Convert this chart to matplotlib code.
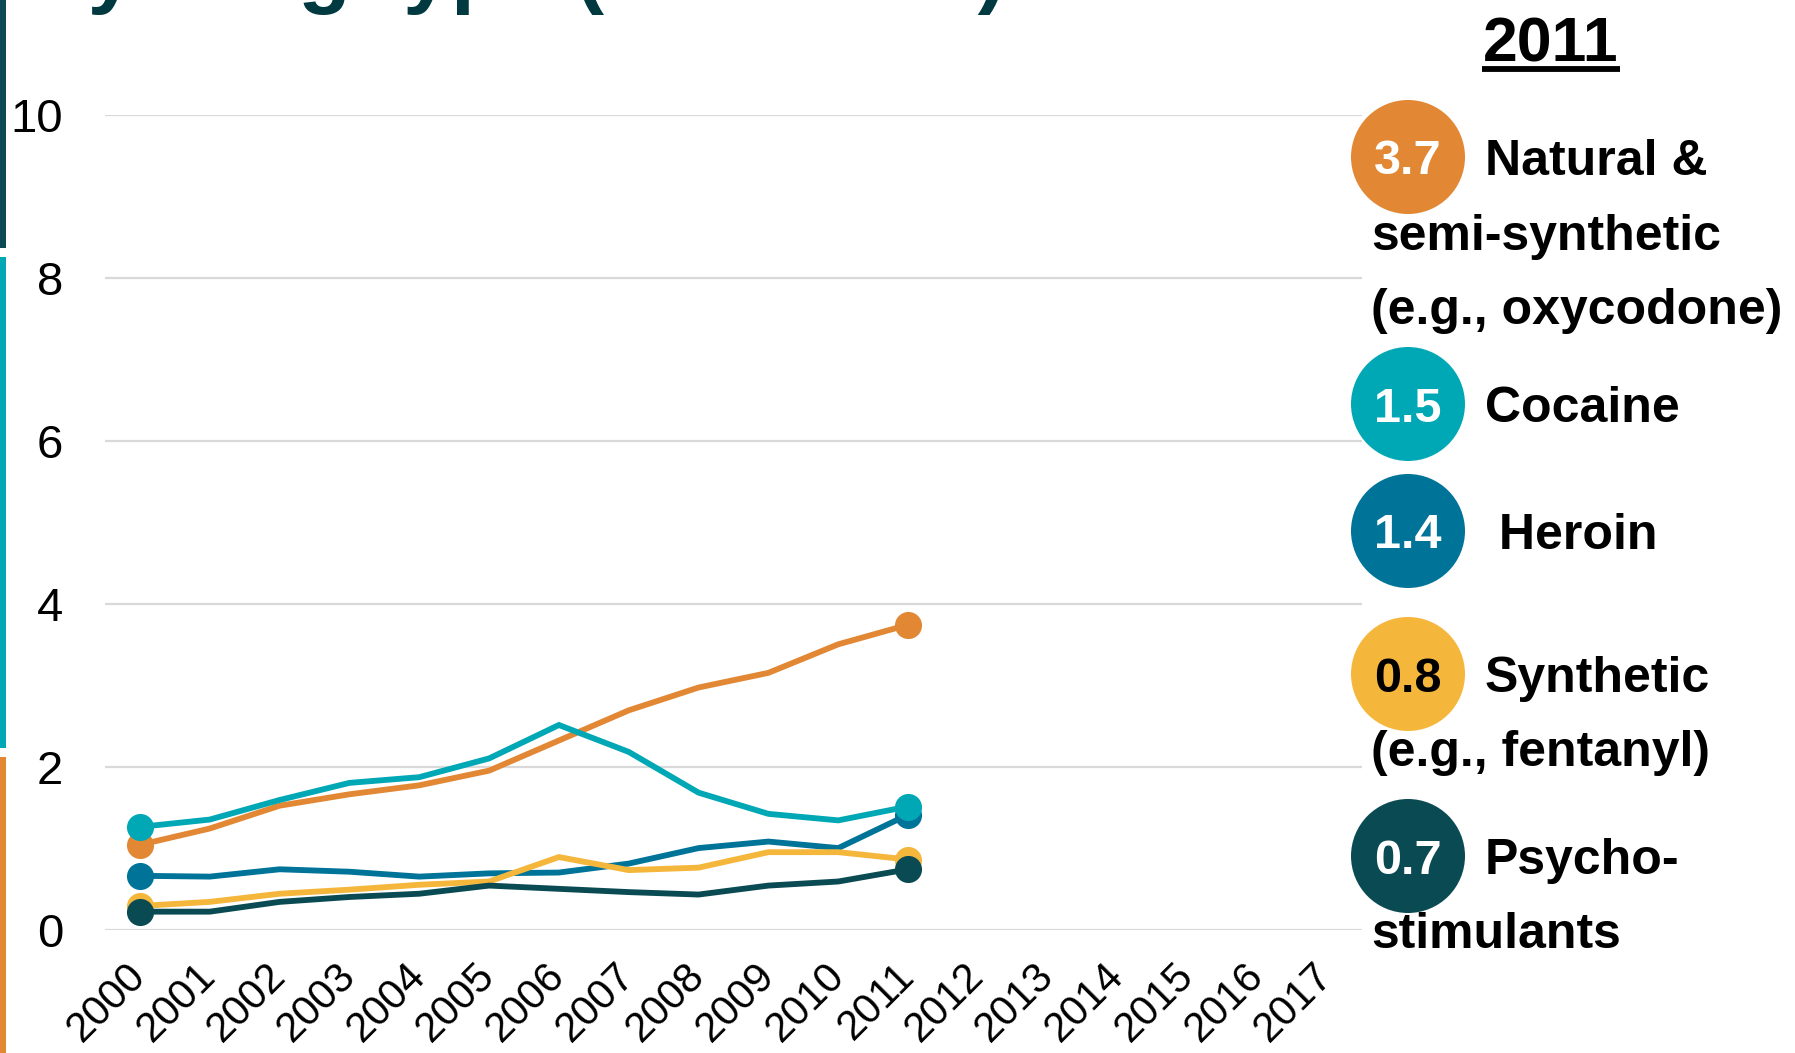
import matplotlib
matplotlib.use("Agg")
import matplotlib.pyplot as plt
from matplotlib.patches import Ellipse, Rectangle
from matplotlib.lines import Line2D

plt.rcParams['font.family'] = ['Liberation Sans', 'DejaVu Sans']

# ---------------- data ----------------
axis_years = list(range(2000, 2018))
data_years = list(range(2000, 2012))

natural = [1.04, 1.24, 1.52, 1.66, 1.77, 1.95, 2.32, 2.69, 2.97, 3.15, 3.50, 3.74]
cocaine = [1.26, 1.35, 1.59, 1.80, 1.87, 2.10, 2.51, 2.18, 1.68, 1.42, 1.34, 1.51]
heroin = [0.66, 0.65, 0.74, 0.71, 0.65, 0.69, 0.70, 0.81, 1.00, 1.08, 1.00, 1.41]
synthetic = [0.29, 0.34, 0.44, 0.49, 0.55, 0.59, 0.89, 0.73, 0.76, 0.95, 0.95, 0.86]
psycho = [0.22, 0.22, 0.34, 0.40, 0.44, 0.54, 0.50, 0.46, 0.43, 0.54, 0.59, 0.74]

y_ticks = [0, 2, 4, 6, 8, 10]

legend_year = "2011"
legend_values = ["3.7", "1.5", "1.4", "0.8", "0.7"]
legend_labels = [
    ["Natural &", "semi-synthetic", "(e.g., oxycodone)"],
    ["Cocaine"],
    [" Heroin"],
    ["Synthetic", "(e.g., fentanyl)"],
    ["Psycho-", "stimulants"],
]
title_text = "by drug type (rate/100k)"

# ---------------- style ----------------
C_ORANGE = '#E28734'
C_CYAN = '#00A7B5'
C_HEROIN = '#007398'
C_YELLOW = '#F5B63C'
C_DARK = '#0A4A52'
legend_colors = [C_ORANGE, C_CYAN, C_HEROIN, C_YELLOW, C_DARK]
legend_num_colors = ['white', 'white', 'white', 'black', 'white']

W, H = 1795, 1053
fig = plt.figure(figsize=(W / 100, H / 100), dpi=100)


def fx(x):
    return x / W


def fy(y):
    return 1 - y / H


ax = fig.add_axes([fx(105), fy(929.6), (1362 - 105) / W, (929.6 - 114.5) / H])

series = [
    (natural, C_ORANGE),
    (heroin, C_HEROIN),
    (synthetic, C_YELLOW),
    (psycho, C_DARK),
    (cocaine, C_CYAN),
]
for vals, col in series:
    ax.plot(data_years, vals, color=col, lw=4.2, solid_joinstyle='miter',
            marker='o', markevery=[0, len(vals) - 1], markersize=19.5,
            markeredgewidth=0, clip_on=False, zorder=3)

ax.set_xlim(1999.5, 2017.5)
ax.set_ylim(0, 10)
ax.set_yticks(y_ticks)
ax.set_xticks(axis_years)
ax.set_xticklabels([str(y) for y in axis_years], rotation=45, ha='right',
                   va='center', rotation_mode='anchor', fontsize=30)
ax.tick_params(axis='x', length=0, pad=29)
ax.tick_params(axis='y', length=0, pad=30, labelsize=34)
ax.grid(axis='y', color='#D9D9D9', lw=1.6)
ax.set_axisbelow(True)
for s in ax.spines.values():
    s.set_visible(False)

# left decorative bars
fig.add_artist(Rectangle((0, fy(248)), fx(6), 248 / H, transform=fig.transFigure,
                         color='#0D4A55', lw=0))
fig.add_artist(Rectangle((0, fy(748)), fx(6), (748 - 257) / H, transform=fig.transFigure,
                         color=C_CYAN, lw=0))
fig.add_artist(Rectangle((0, 0), fx(6), fy(757), transform=fig.transFigure,
                         color=C_ORANGE, lw=0))

# partially visible title (cut off at top, as in the reference)
fig.text(fx(35), fy(-3), title_text, fontsize=62, fontweight='bold',
         color='#003A40', ha='left', va='baseline')

# legend header
fig.text(fx(1551), fy(61), legend_year, fontsize=45, fontweight='bold',
         ha='center', va='baseline', color='black')
fig.add_artist(Line2D([fx(1482), fx(1620)], [fy(69), fy(69)], transform=fig.transFigure,
                      color='black', lw=4.2, solid_capstyle='butt'))

circle_y = [157, 404, 531, 674, 856]
line_gap = 74.5
for i, (val, labels) in enumerate(zip(legend_values, legend_labels)):
    cy = circle_y[i]
    fig.add_artist(Ellipse((fx(1408), fy(cy)), 114 / W, 114 / H,
                           transform=fig.transFigure, color=legend_colors[i], lw=0))
    fig.text(fx(1408), fy(cy + 17.5), val, fontsize=35, fontweight='bold',
             color=legend_num_colors[i], ha='center', va='baseline')
    for j, lab in enumerate(labels):
        x = 1485 if j == 0 else 1371
        fig.text(fx(x), fy(cy + 18 + j * line_gap), lab, fontsize=36,
                 fontweight='bold', color='black', ha='left', va='baseline')

fig.savefig('out.png', dpi=100)
